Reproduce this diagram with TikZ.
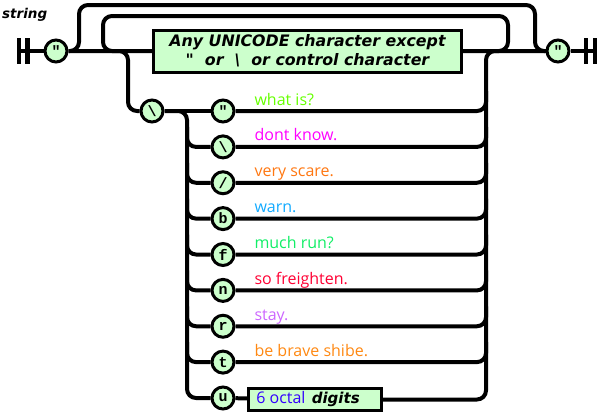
\documentclass[tikz,border=0pt]{standalone}
\usepackage{fontspec}
\setmainfont{DejaVu Sans}
\newfontfamily\boxfont{DejaVu Sans}
\newfontfamily\labfont{Open Sans}
\newfontfamily\termfont{Liberation Mono}
\definecolor{termfill}{HTML}{CCFFCC}
\definecolor{cA}{HTML}{66FF00}
\definecolor{cB}{HTML}{FF00FF}
\definecolor{cC}{HTML}{FF7711}
\definecolor{cD}{HTML}{11AAFF}
\definecolor{cE}{HTML}{11EE66}
\definecolor{cF}{HTML}{FF0033}
\definecolor{cG}{HTML}{CC66FF}
\definecolor{cH}{HTML}{FF8811}
\definecolor{cI}{HTML}{3300FF}
\begin{document}
\begin{tikzpicture}[x=1pt,y=-1pt,
  term/.style={circle,draw,line width=3pt,fill=termfill,minimum size=22pt,inner sep=0pt,
    font=\termfont\bfseries\fontsize{15}{15}\selectfont},
  nonterm/.style={rectangle,draw,line width=3pt,fill=termfill,inner sep=0pt},
  rail/.style={line width=4pt,rounded corners=9pt},
  barline/.style={line width=4.5pt},
  lab/.style={anchor=base west,font=\labfont\fontsize{16}{16}\selectfont},
  bfi/.style={font=\boxfont\bfseries\itshape\fontsize{15.8}{19}\selectfont}]
\useasboundingbox (0,0) rectangle (598,413);
% title
\node[anchor=base west,inner sep=0pt,font=\boxfont\bfseries\itshape\fontsize{13.5}{14}\selectfont] (title) at (2,18) {string};
% bars
\coordinate (L) at (19,51);
\coordinate (R) at (595,51);
\draw[barline] (19,38) -- (19,64);
\draw[barline] (27.5,38) -- (27.5,64);
\draw[barline] (586,38) -- (586,64);
\draw[barline] (595,38) -- (595,64);
% nodes
\node[term] (q1) at (56,51) {"};
\node[term] (q2) at (558,51) {"};
\node[nonterm,bfi,align=center,minimum width=308pt,minimum height=42pt] (any) at (307.5,51)
  {Any UNICODE character except\\"\ \ or\ \ \textbackslash\ \ or control character};
\node[term] (bs) at (152,111) {\textbackslash};
\node[term] (e0) at (223,111) {"};
\node[term] (e1) at (223,146.9) {\textbackslash};
\node[term] (e2) at (223,182.75) {/};
\node[term] (e3) at (223,218.6) {b};
\node[term] (e4) at (223,254.5) {f};
\node[term] (e5) at (223,290.4) {n};
\node[term] (e6) at (223,326.25) {r};
\node[term] (e7) at (223,362.1) {t};
\node[term] (e8) at (223,398) {u};
\node[nonterm,minimum width=133pt,minimum height=22pt] (hex) at (315,399.5)
  {{\labfont\fontsize{16}{16}\selectfont\color{cI}6 octal}\ \ {\boxfont\bfseries\itshape\fontsize{15}{15}\selectfont digits}\hspace*{14pt}};
% rails
\draw[rail] (L) -- (q1);
\draw[rail] (q1) -- (any);
\draw[rail] (any) -- (q2);
\draw[rail] (q2) -- (R);
\draw[rail] (q1.east) -| (79,5) -| (535,51) -- (q2.west);
\draw[rail] (any.east) -| (508,16) -| (103,51) -- (any.west);
\draw[rail] (q1.east) -| (128,111) -- (bs.west);
\draw[rail] (bs) -- (e0);
\draw[rail] (bs.east) -| (187,398) -- (e8.west);
\foreach \k/\y in {1/146.9,2/182.75,3/218.6,4/254.5,5/290.4,6/326.25,7/362.1}
  \draw[rail] (187,\y-20) |- (e\k.west);
\foreach \k/\y in {0/111,1/146.9,2/182.75,3/218.6,4/254.5,5/290.4,6/326.25,7/362.1}
  \draw[rail] (e\k.east) -| (486,\y-20);
\draw[rail] (e8) -- (hex);
\draw[rail] (hex.east) -| (486,51) -- (q2.west);
% labels
\node[lab,text=cA] (l0) at (251,105) {what is?};
\node[lab,text=cB] (l1) at (251,140.9) {dont know.};
\node[lab,text=cC] (l2) at (251,176.75) {very scare.};
\node[lab,text=cD] (l3) at (251,212.6) {warn.};
\node[lab,text=cE] (l4) at (251,248.5) {much run?};
\node[lab,text=cF] (l5) at (251,284.4) {so freighten.};
\node[lab,text=cG] (l6) at (251,320.25) {stay.};
\node[lab,text=cH] (l7) at (251,356.1) {be brave shibe.};
\end{tikzpicture}
\end{document}
